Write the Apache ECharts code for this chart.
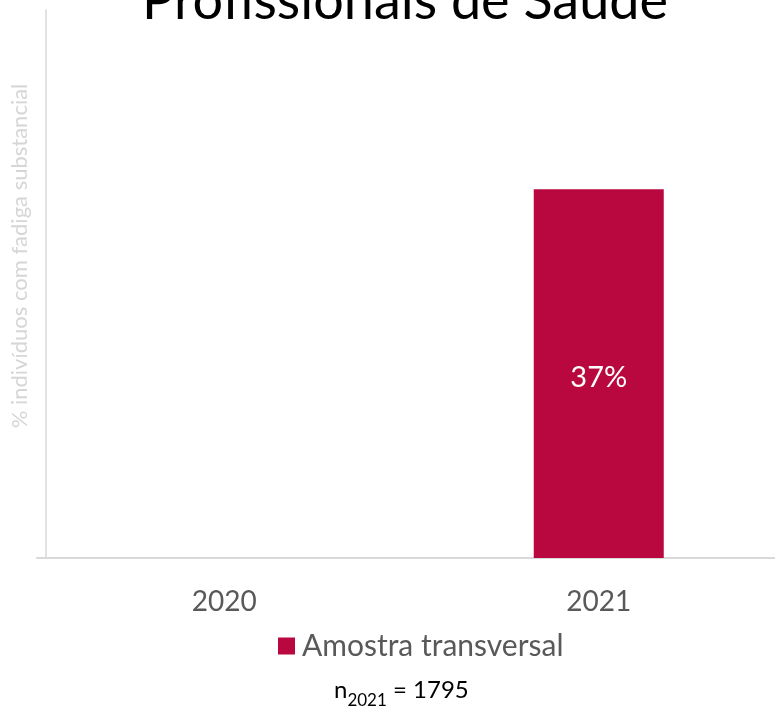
<!DOCTYPE html>
<html>
<head>
<meta charset="utf-8">
<script src="https://cdn.jsdelivr.net/npm/echarts@6/dist/echarts.min.js"></script>
<style>
  html, body { margin: 0; padding: 0; background: #ffffff; overflow: hidden; }
  #chart { width: 786px; height: 712px; }
</style>
</head>
<body>
<div id="chart"></div>
<script>
// Anos e percentagem de indivíduos com fadiga substancial
const years = ['2020', '2021'];
const crossSection = [null, 37];
const seriesName = 'Amostra transversal';
const sampleYear = '2021';
const sampleSize = 1795;

const chart = echarts.init(document.getElementById('chart'));

chart.setOption({
  backgroundColor: '#ffffff',
  animation: false,
  title: [
    {
      text: 'Profissionais de Saúde',
      left: 137,
      top: -30,
      textStyle: { fontFamily: 'Lato', fontSize: 54, fontWeight: 'normal', color: '#000000' }
    },
    {
      text: '{n|n}{sub|' + sampleYear + '}{n| = ' + sampleSize + '}',
      left: 329,
      top: 673,
      textStyle: {
        fontWeight: 'normal',
        rich: {
          n: { fontFamily: 'Lato', fontSize: 24, fontWeight: 'normal', color: '#000000', verticalAlign: 'bottom', padding: [0, 0, 7, 0] },
          sub: { fontFamily: 'Lato', fontSize: 17, fontWeight: 'normal', color: '#000000', verticalAlign: 'bottom' }
        }
      }
    }
  ],
  legend: {
    data: [seriesName],
    left: 273,
    top: 626,
    icon: 'rect',
    itemWidth: 17,
    itemHeight: 17,
    itemGap: 8,
    textStyle: { fontFamily: 'Lato', fontSize: 30, color: '#595959', padding: [0, 0, 0, 2] }
  },
  grid: { left: 37, right: 0, top: 10, bottom: 154, containLabel: false },
  xAxis: {
    type: 'category',
    data: years,
    axisLine: { show: true, lineStyle: { color: '#d9d9d9', width: 2 } },
    axisTick: { show: false },
    axisLabel: { fontFamily: 'Lato', fontSize: 28, color: '#595959', margin: 30 }
  },
  yAxis: {
    type: 'value',
    min: 0,
    max: 55,
    offset: -9,
    splitLine: { show: false },
    axisTick: { show: false },
    axisLabel: { show: false },
    axisLine: { show: true, lineStyle: { color: '#d9d9d9', width: 1.5 } },
    name: '% indivíduos com fadiga substancial',
    nameLocation: 'middle',
    nameGap: 15,
    nameTextStyle: { fontFamily: 'Lato', fontSize: 22, color: '#d6d6d6', padding: [0, 0, 0, 56] }
  },
  series: [
    {
      name: seriesName,
      type: 'bar',
      data: crossSection,
      barWidth: 130,
      itemStyle: { color: '#b9073f' },
      label: {
        show: true,
        position: 'inside',
        offset: [0, 4],
        formatter: '{c}%',
        fontFamily: 'Lato',
        fontSize: 29,
        color: '#ffffff'
      }
    }
  ]
});
</script>
</body>
</html>
